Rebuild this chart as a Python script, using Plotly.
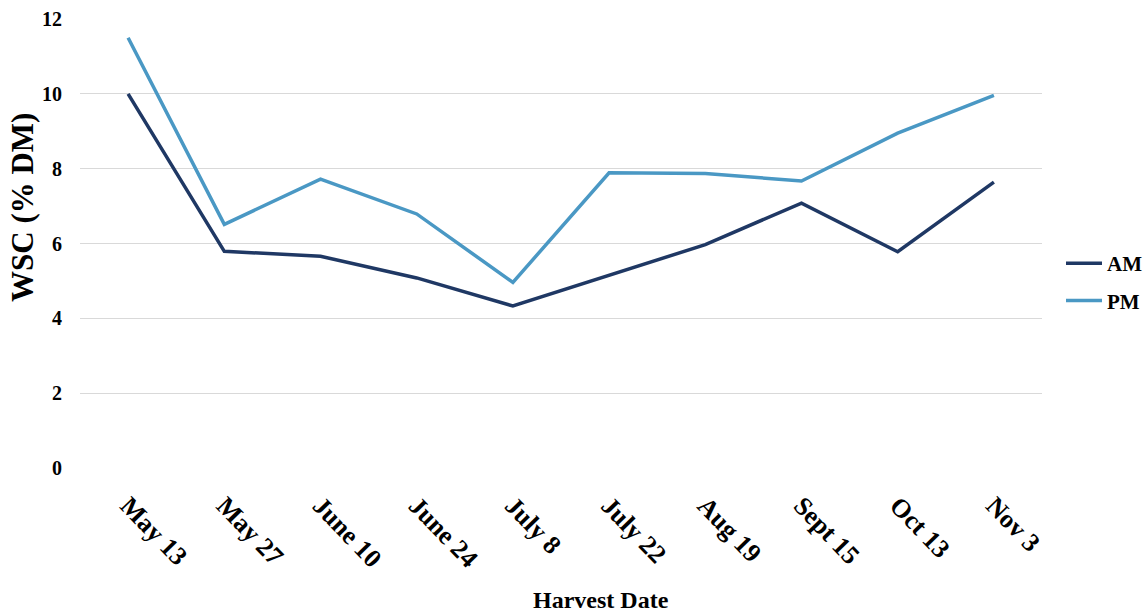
import plotly.graph_objects as go

# Harvest dates and water-soluble carbohydrate values (% of dry matter)
harvest_dates = ["May 13", "May 27", "June 10", "June 24", "July 8",
                 "July 22", "Aug 19", "Sept 15", "Oct 13", "Nov 3"]
am_wsc = [10.0, 5.79, 5.66, 5.08, 4.33, 5.15, 5.97, 7.08, 5.78, 7.64]
pm_wsc = [11.5, 6.51, 7.72, 6.79, 4.96, 7.89, 7.87, 7.67, 8.95, 9.96]
y_ticks = [0, 2, 4, 6, 8, 10, 12]

FONT = "Liberation Serif"
AM_COLOR = "#1f3864"
PM_COLOR = "#4a98c4"

fig = go.Figure()
fig.add_trace(go.Scatter(x=harvest_dates, y=am_wsc, mode="lines", name="AM",
                         legendgroup="am",
                         line=dict(color=AM_COLOR, width=3.5)))
fig.add_trace(go.Scatter(x=harvest_dates, y=pm_wsc, mode="lines", name="PM",
                         legendgroup="pm",
                         line=dict(color=PM_COLOR, width=3.5)))

fig.update_layout(
    width=1148, height=615,
    margin=dict(l=80, r=106, t=19, b=147, autoexpand=False),
    paper_bgcolor="white", plot_bgcolor="white",
    font=dict(family=FONT, color="black"),
    showlegend=True,
    legend=dict(xref="container", yref="container",
                x=1061 / 1148, y=1 - 282 / 615, xanchor="left", yanchor="middle",
                font=dict(family=FONT, size=21, color="black", weight="bold"),
                itemwidth=36,
                traceorder="grouped", tracegroupgap=7,
                bgcolor="rgba(0,0,0,0)"),
    xaxis=dict(type="category", range=[-0.5, 9.5], tickangle=46,
               tickfont=dict(family=FONT, size=26, color="black", weight="bold"),
               ticks="outside", ticklen=11, tickcolor="rgba(0,0,0,0)",
               showgrid=False, showline=False, zeroline=False, automargin=False),
    yaxis=dict(range=[0, 12], tickvals=y_ticks,
               tickfont=dict(family=FONT, size=20, color="black", weight="bold"),
               showgrid=True, gridcolor="#d9d9d9", gridwidth=1,
               zeroline=False, showline=False, automargin=False,
               ticks="outside", ticklen=13, tickcolor="rgba(0,0,0,0)"),
    annotations=[
        dict(text="<b>Harvest Date</b>", xref="paper", yref="paper",
             x=(601 - 80) / 962, y=-(600 - 468) / 449, xanchor="center", yanchor="middle",
             showarrow=False, font=dict(family=FONT, size=24, color="black")),
        dict(text="<b>WSC (% DM)</b>", xref="paper", yref="paper",
             x=-(80 - 23) / 962, y=(468 - 208) / 449, xanchor="center", yanchor="middle",
             textangle=-90, showarrow=False,
             font=dict(family=FONT, size=31, color="black")),
    ],
)

fig.write_html("out.html")
